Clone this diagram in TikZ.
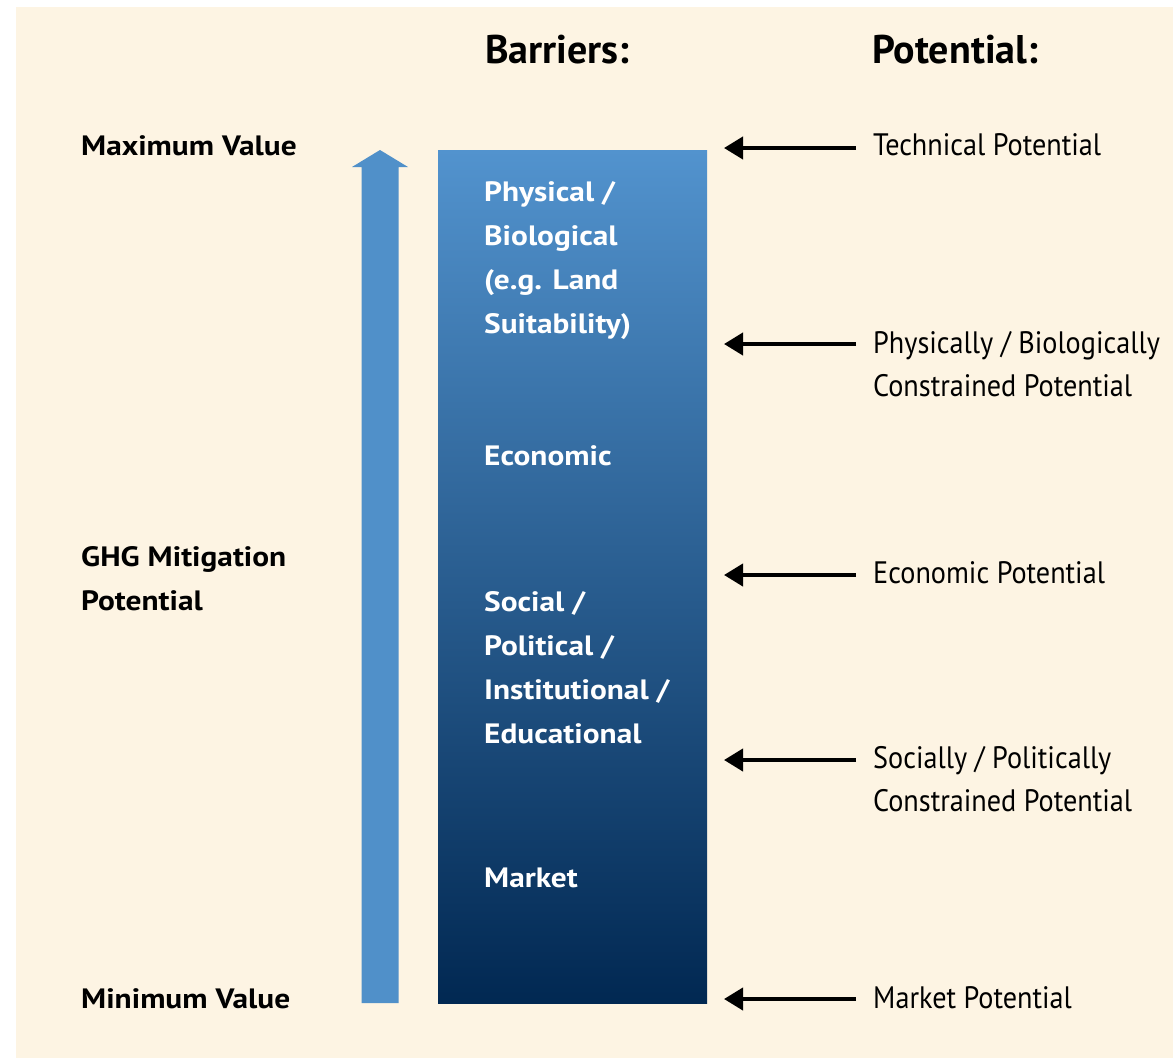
\documentclass[tikz,border=0pt]{standalone}
\usepackage{fontspec}
\setmainfont{PT Sans}
\usetikzlibrary{arrows.meta}
\definecolor{cream}{RGB}{253,244,227}
\definecolor{arrowblue}{RGB}{80,144,201}
\definecolor{boxtop}{RGB}{82,147,206}
\definecolor{boxbottom}{RGB}{1,40,82}
\newfontfamily\potfont[FakeStretch=0.91]{PT Sans}
\newfontfamily\wideboldfont[FakeStretch=1.12]{PT Sans Bold}
\tikzset{
  headlabel/.style={anchor=base west, inner sep=0pt, font=\fontsize{40}{40}\selectfont\bfseries},
  leftlabel/.style={anchor=base west, inner sep=0pt, align=left, font=\wideboldfont\fontsize{28}{44}\selectfont},
  boxlabel/.style={leftlabel, text=white},
  potlabel/.style={anchor=base west, inner sep=0pt, align=left, font=\potfont\fontsize{31}{43}\selectfont},
  ptr/.style={line width=4pt, -{Triangle[length=19pt,width=22pt]}},
  barrierbox/.style={rectangle, inner sep=0pt, minimum width=269pt, minimum height=853pt, top color=boxtop, bottom color=boxbottom, draw=none},
}
\begin{document}
\begin{tikzpicture}[x=1pt, y=-1pt]
  % page and cream panel
  \useasboundingbox (0,0) rectangle (1173,1058);
  \fill[white] (0,0) rectangle (1173,1058);
  \fill[cream] (16,7) rectangle (1173,1058);

  % rising mitigation arrow
  \fill[arrowblue] (361.5,1003) -- (361.5,167) -- (352,167) -- (380,150)
    -- (408,167) -- (398.5,167) -- (398.5,1003) -- cycle;

  % barrier column
  \node[barrierbox] (box) at (572.5,576.5) {};

  % column headings
  \node[headlabel] (hbar) at (485,63) {Barriers:};
  \node[headlabel] (hpot) at (872,63) {Potential:};

  % left axis labels (multi-line nodes sit on their last baseline)
  \node[leftlabel] (lmax) at (81,155) {Maximum Value};
  \node[leftlabel] (lghg) at (81,610) {GHG Mitigation\\Potential};
  \node[leftlabel] (lmin) at (81,1008) {Minimum Value};

  % barriers inside the column
  \node[boxlabel] (bphys) at (484,333) {Physical /\\Biological\\(e.g. Land\\Suitability)};
  \node[boxlabel] (becon) at (484,465) {Economic};
  \node[boxlabel] (bsoc) at (484,743) {Social /\\Political /\\Institutional /\\Educational};
  \node[boxlabel] (bmkt) at (484,887) {Market};

  % potentials
  \node[potlabel] (ptech) at (873,155) {Technical Potential};
  \node[potlabel] (pphys) at (873,396) {Physically / Biologically\\Constrained Potential};
  \node[potlabel] (pecon) at (873,583) {Economic Potential};
  \node[potlabel] (psoc) at (873,811) {Socially / Politically\\Constrained Potential};
  \node[potlabel] (pmkt) at (873,1008) {Market Potential};

  % pointer arrows
  \coordinate (t1) at (856,148); \coordinate (h1) at (724,148);
  \coordinate (t2) at (856,344); \coordinate (h2) at (724,344);
  \coordinate (t3) at (856,575); \coordinate (h3) at (724,575);
  \coordinate (t4) at (856,760); \coordinate (h4) at (724,760);
  \coordinate (t5) at (856,999); \coordinate (h5) at (724,999);
  \foreach \i in {1,...,5} \draw[ptr] (t\i) -- (h\i);
\end{tikzpicture}
\end{document}
